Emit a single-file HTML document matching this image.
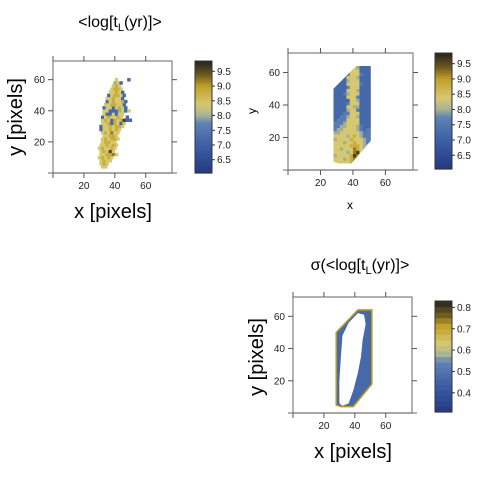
<!DOCTYPE html>
<html><head><meta charset="utf-8">
<style>
html,body{margin:0;padding:0;background:#fff;}
svg{display:block;font-family:"Liberation Sans",sans-serif;}
</style></head>
<body>
<svg id="chart" width="480" height="480" viewBox="0 0 480 480">
<text x="120" y="27" font-size="16" text-anchor="middle">&lt;log[t<tspan font-size="11" dy="4">L</tspan><tspan dy="-4">(yr)]&gt;</tspan></text>
<text x="360" y="270" font-size="16" text-anchor="middle">σ(&lt;log[t<tspan font-size="11" dy="4">L</tspan><tspan dy="-4">(yr)]&gt;</tspan></text>
<text x="113" y="218" font-size="20" text-anchor="middle">x [pixels]</text>
<text transform="translate(22,117) rotate(-90)" font-size="20" text-anchor="middle">y [pixels]</text>
<text x="350" y="209" font-size="12" text-anchor="middle">x</text>
<text transform="translate(256,111) rotate(-90)" font-size="12" text-anchor="middle">y</text>
<text x="353" y="458" font-size="20" text-anchor="middle">x [pixels]</text>
<text transform="translate(263,357) rotate(-90)" font-size="20" text-anchor="middle">y [pixels]</text>
</svg>
<script>
const xTicks=[20,40,60];
const yTicks=[20,40,60];
const ageTicks=[6.5,7.0,7.5,8.0,8.5,9.0,9.5];
const sigTicks=[0.4,0.5,0.6,0.7,0.8];
// panel 1 rows: y, x start, value codes (value = 6 + code*0.4)
const p1Y=[4,6,8,10,12,14,16,18,20,22,24,26,28,30,32,34,36,38,40,42,44,46,48,50,52,54,56,58,60];
const p1X0=[32,31,31,30,31,31,30,31,32,32,33,32,31,31,32,32,32,33,33,33,34,35,35,36,37,38,39,40,41];
const p1Codes=["66","676","6766","67676","667786","67696","676676","667676","67766","676776","66776","676866","3667676","36676776","66737636","6763767933","3676676.3","6336366","663335636","36636763","6677663","3676673","667663","367763","66763","6776","676","563","6...3"];
// panel 2 rows (x start 28, cell 2)
const p2Y=[5,7,9,11,13,15,17,19,21,23,25,27,29,31,33,35,37,39,41,43,45,47,49,51,53,55,57,59,61,63];
const p2Codes=["666667896666","666567896666","566667986666","666656896566","665666876555","666667776554","666566766544","566667666544","666656765444","556666665444","455666654344","445566654333","444566663333","344466663333","334456653333","333446663333","333356643333","333366553333","333346663333","333336653333","333366643333","333456663333","333366653333","333346663333","333366664333","333356663333","333366653333","333346664333","333336663333","333335653333"];
const hullX=[28,28,42,51,51,39,31];
const hullY=[5,50,64,64,18,4,4];
const innerX=[30,30,31,32,36,42,46,47,45,44,42,39,36,32];
const innerY=[6,20,35,48,56,62,61,55,45,35,25,14,6,4.5];
const rimValue=0.72, bandValue=0.47;

const NS="http://www.w3.org/2000/svg";
const svg=document.getElementById('chart');
function mk(t,a,p){const e=document.createElementNS(NS,t);for(const k in a)e.setAttribute(k,a[k]);(p||svg).appendChild(e);return e;}
const stops=[[0,[36,56,130]],[0.25,[60,95,165]],[0.45,[95,130,180]],[0.52,[168,180,150]],[0.62,[215,200,110]],[0.78,[192,160,40]],[0.88,[110,90,30]],[1,[40,36,28]]];
function cmap(t){t=Math.max(0,Math.min(1,t));for(let i=1;i<stops.length;i++){if(t<=stops[i][0]){const a=stops[i-1],b=stops[i];const f=(t-a[0])/(b[0]-a[0]);const c=a[1].map((v,j)=>Math.round(v+(b[1][j]-v)*f));return `rgb(${c})`;}}return 'rgb(40,36,28)';}
const AMIN=6.05,AMAX=9.85,SMIN=0.31,SMAX=0.83;

function panel(L,T,R,B,xmax,ymax,id){
  const sx=v=>L+(v/xmax)*(R-L), sy=v=>B-(v/ymax)*(B-T);
  const g=mk('g',{});
  
  
  return {sx,sy,g,L,T,R,B};
}
function frame(P,id){
  const {sx,sy,L,T,R,B}=P;
  const r=mk('rect',{x:L,y:T,width:R-L,height:B-T,fill:'none',stroke:'#888','stroke-width':1.3});
  
  mk('line',{x1:L-5,y1:B,x2:R+5,y2:B,stroke:'#888','stroke-width':1.3});
  mk('line',{x1:L,y1:B,x2:L,y2:B+5,stroke:'#555'});
  mk('line',{x1:L,y1:T,x2:L,y2:T-5,stroke:'#555'});
  xTicks.forEach(v=>{const x=sx(v);
    mk('line',{x1:x,y1:B,x2:x,y2:B+5,stroke:'#555'});mk('line',{x1:x,y1:T,x2:x,y2:T-5,stroke:'#555'});
    const t=mk('text',{x:x,y:B+16,'font-size':10,'text-anchor':'middle',fill:'#222'});t.textContent=v;
    });
  yTicks.forEach(v=>{const y=sy(v);
    mk('line',{x1:L,y1:y,x2:L-5,y2:y,stroke:'#555'});mk('line',{x1:R,y1:y,x2:R+5,y2:y,stroke:'#555'});
    const t=mk('text',{x:L-8,y:y+3.5,'font-size':10,'text-anchor':'end',fill:'#222'});t.textContent=v;
    });
}
function colorbar(x,T,B,mn,mx,ticks,dec,steps,id){
  const n=steps||60,h=(B-T)/n;
  for(let i=0;i<n;i++){mk('rect',{x:x,y:B-(i+1)*h,width:17,height:h+0.6,fill:cmap((i+0.5)/n)});}
  const r=mk('rect',{x:x,y:T,width:17,height:B-T,fill:'none',stroke:'#333'});
  
  ticks.forEach(v=>{const y=B-(v-mn)/(mx-mn)*(B-T);
    mk('line',{x1:x+17,y1:y,x2:x+20,y2:y,stroke:'#333'});
    const t=mk('text',{x:x+22,y:y+3.5,'font-size':10,fill:'#222'});t.textContent=v.toFixed(dec);
    });
}

// Panel 1
const P1=panel(53,61,172,173,77,72,'1');
p1Y.forEach((y,i)=>{const s=p1Codes[i];for(let k=0;k<s.length;k++){if(s[k]==='.')continue;
  const v=6+(+s[k])*0.4,x=p1X0[i]+k*2;
  const c=mk('rect',{x:P1.sx(x-1),y:P1.sy(y+1),width:P1.sx(2)-P1.sx(0)+0.3,height:P1.sy(0)-P1.sy(2)+0.3,fill:cmap((v-AMIN)/(AMAX-AMIN))});
  }});
frame(P1,'1');
colorbar(195,61,173,AMIN,AMAX,ageTicks,1,60,'1');

// Panel 2
const P2=panel(288,53,413,170,77,72,'2');
const cp=mk('clipPath',{id:'hull2'});
mk('polygon',{points:hullX.map((x,i)=>P2.sx(x)+','+P2.sy(hullY[i])).join(' ')},cp);
const g2=mk('g',{'clip-path':'url(#hull2)'});
p2Y.forEach((y,i)=>{const s=p2Codes[i];for(let k=0;k<s.length;k++){
  const v=6+(+s[k])*0.4,x=28+k*2;
  const c=mk('rect',{x:P2.sx(x),y:P2.sy(y+1),width:P2.sx(2)-P2.sx(0)+0.3,height:P2.sy(0)-P2.sy(2)+0.3,fill:cmap((v-AMIN)/(AMAX-AMIN))},g2);
  }});
frame(P2,'2');
colorbar(435,53,169,AMIN,AMAX,ageTicks,1,60,'2');

// Panel 3
const P3=panel(293,297,412,413,77,72,'3');
const hull=mk('polygon',{points:hullX.map((x,i)=>P3.sx(x)+','+P3.sy(hullY[i])).join(' '),fill:cmap((bandValue-SMIN)/(SMAX-SMIN)),stroke:cmap((rimValue-SMIN)/(SMAX-SMIN)),'stroke-width':1.6});

const inner=mk('polygon',{points:innerX.map((x,i)=>P3.sx(x)+','+P3.sy(innerY[i])).join(' '),fill:'#fff'});

frame(P3,'3');
colorbar(435,301,412,SMIN,SMAX,sigTicks,1,20,'3');
</script>
</body></html>
